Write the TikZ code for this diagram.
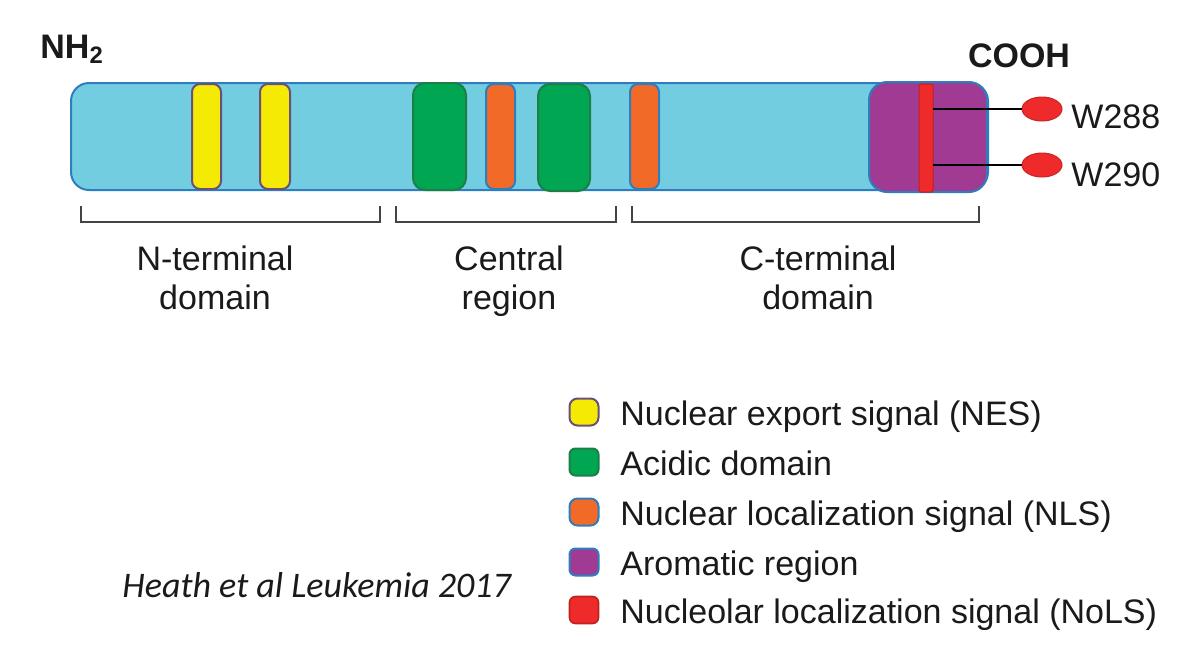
\documentclass[tikz,border=0pt]{standalone}
\usepackage{fontspec}
\setmainfont{Liberation Sans}
\newfontfamily\refcitefont{Carlito}
\usetikzlibrary{fit,shapes.geometric}
\definecolor{protblue}{HTML}{73CDE0}
\definecolor{edgeblue}{HTML}{2E7DC0}
\definecolor{nesyellow}{HTML}{F5EA04}
\definecolor{nesedge}{HTML}{6B4F7A}
\definecolor{acidgreen}{HTML}{00A651}
\definecolor{acidedge}{HTML}{1B7F46}
\definecolor{nlsorange}{HTML}{F26A27}
\definecolor{arompurple}{HTML}{A03A92}
\definecolor{nolsred}{HTML}{EE2A2B}
\definecolor{brackgray}{HTML}{444444}
\definecolor{txt}{HTML}{1A1A1A}
\tikzset{
  seg/.style={inner sep=0pt, outer sep=0pt, line width=1pt, rounded corners=4pt},
  protbar/.style={seg, fill=protblue, draw=edgeblue, rounded corners=9pt},
  nes/.style={seg, fill=nesyellow, draw=nesedge},
  acid/.style={seg, fill=acidgreen, draw=acidedge, rounded corners=6pt},
  nls/.style={seg, fill=nlsorange, draw=edgeblue},
  arom/.style={seg, fill=arompurple, draw=edgeblue, rounded corners=9pt},
  nols/.style={seg, fill=nolsred, draw=nolsred!80!black, line width=0.5pt, rounded corners=1pt},
  site/.style={ellipse, fill=nolsred, draw=nolsred!85!black, line width=0.5pt, minimum width=20pt, minimum height=12pt, inner sep=0pt},
  lbl/.style={text=txt, font=\fontsize{17}{19.5}\selectfont, inner sep=0pt},
  bold/.style={text=txt, font=\fontsize{17}{19.5}\selectfont\bfseries, inner sep=0pt},
  brack/.style={draw=brackgray, line width=0.8pt},
  link/.style={draw=black, line width=0.8pt},
  legbox/.style={seg, minimum width=14.5pt, minimum height=13.5pt, rounded corners=3pt},
}
\begin{document}
\begin{tikzpicture}[x=0.5pt,y=-0.5pt]
\useasboundingbox (0,0) rectangle (1200,661);
% protein bar
\node[protbar, fit={(71,83) (988,190)}] (prot) {};
\node[nes, fit={(192,84) (221,189)}] (nes1) {};
\node[nes, fit={(260,84) (290,189)}] (nes2) {};
\node[acid, fit={(413,83) (466,190)}] (acid1) {};
\node[nls, fit={(486,84) (515,189)}] (nls1) {};
\node[acid, fit={(538,84) (590,191)}] (acid2) {};
\node[nls, fit={(630,84) (659,189)}] (nls2) {};
\node[arom, fit={(869,82) (987,192)}] (arom) {};
\node[nols, fit={(919,84) (933,192)}] (nols) {};
% termini labels
\node[bold, anchor=base west] (nh2) at (40,58) {NH\textsubscript{2}};
\node[bold, anchor=base] (cooh) at (1019,67) {COOH};
% sites
\node[site] (w288) at (1042,109) {};
\node[site] (w290) at (1042,165) {};
\draw[link] (nols.east |- w288) -- (w288.west);
\draw[link] (nols.east |- w290) -- (w290.west);
\node[lbl, anchor=base west] (t288) at (1071,128) {W288};
\node[lbl, anchor=base west] (t290) at (1071,186) {W290};
% brackets
\draw[brack] (81,206) -- (81,222) -- (380,222) -- (380,206);
\draw[brack] (396,206) -- (396,222) -- (616,222) -- (616,206);
\draw[brack] (632,206) -- (632,222) -- (979,222) -- (979,206);
\node[lbl, align=center, anchor=north] (nterm) at (215,245) {N-terminal\\domain};
\node[lbl, align=center, anchor=north] (central) at (509,245) {Central\\region};
\node[lbl, align=center, anchor=north] (cterm) at (818,245) {C-terminal\\domain};
% legend
\node[legbox, nes] (k1) at (584,412) {};
\node[legbox, acid, rounded corners=3pt] (k2) at (584,462) {};
\node[legbox, nls] (k3) at (584,512) {};
\node[legbox, arom, rounded corners=3pt] (k4) at (584,562) {};
\node[legbox, nols, line width=0.8pt, rounded corners=3pt] (k5) at (584,610) {};
\node[lbl, anchor=base west] (l1) at (620,425) {Nuclear export signal (NES)};
\node[lbl, anchor=base west] (l2) at (620,475) {Acidic domain};
\node[lbl, anchor=base west] (l3) at (620,525) {Nuclear localization signal (NLS)};
\node[lbl, anchor=base west] (l4) at (620,575) {Aromatic region};
\node[lbl, anchor=base west] (l5) at (620,623) {Nucleolar localization signal (NoLS)};
% citation
\node[text=txt, font=\refcitefont\itshape\fontsize{18}{21}\selectfont, anchor=west, inner sep=0pt] (cite) at (122,585) {Heath et al Leukemia 2017};
\end{tikzpicture}
\end{document}
